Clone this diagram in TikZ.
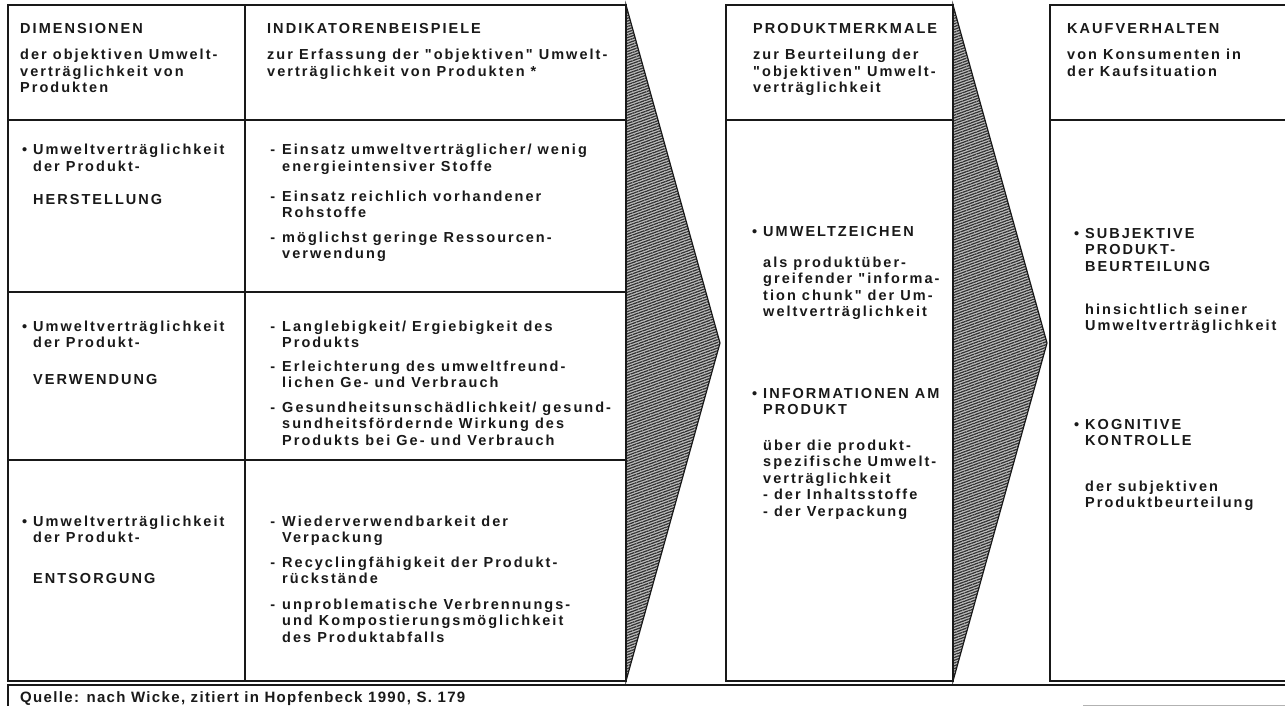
\documentclass[tikz,border=0pt]{standalone}
\usepackage{fontspec}
\setmainfont{Liberation Sans}
\newfontfamily\bodyfont{Liberation Sans}[LetterSpace=14]
\newfontfamily\srcfont{Liberation Sans}[LetterSpace=9]
\usetikzlibrary{patterns.meta}
\newcommand\tl[1]{\vtop{\baselineskip=16.5pt\lineskiplimit=-20pt\lineskip=0pt\halign{##\hfil\cr#1\crcr}}}
\newcommand\bul{\llap{•\kern6pt}}
\newcommand\dsh{\llap{-\kern7pt}}
\tikzset{
  txt/.style={anchor=base west, inner sep=0pt, text=black!90, font=\bodyfont\bfseries\fontsize{14.5}{16.5}\selectfont},
  srctxt/.style={anchor=base west, inner sep=0pt, text=black!90, font=\srcfont\bfseries\fontsize{15}{17}\selectfont},
  box/.style={draw=black!90, line width=1.3pt},
  hatch/.style={draw=black!90, line width=1.2pt, pattern={Lines[angle=20,distance=2.6pt,line width=1.25pt]}, pattern color=black!80},
}
\begin{document}
\begin{tikzpicture}[x=1pt,y=-1pt]
\useasboundingbox (0,0) rectangle (1285,706);
\clip (0,0) rectangle (1285,706);
\fill[white] (0,0) rectangle (1285,706);
% hatched arrows
\fill[black!25] (626,5) -- (720,343) -- (626,681) -- cycle;
\path[hatch] (626,5) -- (720,343) -- (626,681) -- cycle;
\fill[black!25] (953,5) -- (1047,343) -- (953,681) -- cycle;
\path[hatch] (953,5) -- (1047,343) -- (953,681) -- cycle;
% box 1
\draw[box] (8,5) rectangle (626,681);
\draw[box] (245,5) -- (245,681);
\draw[box] (8,120) -- (626,120);
\draw[box] (8,292) -- (626,292);
\draw[box] (8,460) -- (626,460);
% box 2
\draw[box] (726,5) rectangle (953,681);
\draw[box] (726,120) -- (953,120);
% box 3
\draw[box] (1050,5) rectangle (1300,681);
\draw[box] (1050,120) -- (1300,120);
% source box
\draw[box] (8,720) -- (8,685) -- (1300,685);
\draw[gray!60, line width=1pt] (1083,705) -- (1300,705);

% column 1
\node[txt] (d1) at (20,34) {DIMENSIONEN};
\node[txt] (d2) at (20,60) {\tl{der objektiven Umwelt-\cr verträglichkeit von\cr Produkten}};
\node[txt] (d3) at (33,155) {\tl{\bul Umweltverträglichkeit\cr der Produkt-}};
\node[txt] (d4) at (33,204) {HERSTELLUNG};
\node[txt] (d5) at (33,331) {\tl{\bul Umweltverträglichkeit\cr der Produkt-}};
\node[txt] (d6) at (33,384) {VERWENDUNG};
\node[txt] (d7) at (33,526) {\tl{\bul Umweltverträglichkeit\cr der Produkt-}};
\node[txt] (d8) at (33,583) {ENTSORGUNG};

% column 2
\node[txt] (i1) at (267,34) {INDIKATORENBEISPIELE};
\node[txt] (i2) at (267,60) {\tl{zur Erfassung der "objektiven" Umwelt-\cr verträglichkeit von Produkten *}};
\node[txt] (i3) at (282,155) {\tl{\dsh Einsatz umweltverträglicher/ wenig\cr energieintensiver Stoffe}};
\node[txt] (i4) at (282,201) {\tl{\dsh Einsatz reichlich vorhandener\cr Rohstoffe}};
\node[txt] (i5) at (282,242) {\tl{\dsh möglichst geringe Ressourcen-\cr verwendung}};
\node[txt] (i6) at (282,331) {\tl{\dsh Langlebigkeit/ Ergiebigkeit des\cr Produkts}};
\node[txt] (i7) at (282,371) {\tl{\dsh Erleichterung des umweltfreund-\cr lichen Ge- und Verbrauch}};
\node[txt] (i8) at (282,412) {\tl{\dsh Gesundheitsunschädlichkeit/ gesund-\cr sundheitsfördernde Wirkung des\cr Produkts bei Ge- und Verbrauch}};
\node[txt] (i9) at (282,526) {\tl{\dsh Wiederverwendbarkeit der\cr Verpackung}};
\node[txt] (i10) at (282,567) {\tl{\dsh Recyclingfähigkeit der Produkt-\cr rückstände}};
\node[txt] (i11) at (282,609) {\tl{\dsh unproblematische Verbrennungs-\cr und Kompostierungsmöglichkeit\cr des Produktabfalls}};

% box 2
\node[txt] (p1) at (753,34) {PRODUKTMERKMALE};
\node[txt] (p2) at (753,60) {\tl{zur Beurteilung der\cr "objektiven" Umwelt-\cr verträglichkeit}};
\node[txt] (p3) at (763,236) {\bul UMWELTZEICHEN};
\node[txt] (p4) at (763,267) {\tl{als produktüber-\cr greifender "informa-\cr tion chunk" der Um-\cr weltverträglichkeit}};
\node[txt] (p5) at (763,398) {\tl{\bul INFORMATIONEN AM\cr PRODUKT}};
\node[txt] (p6) at (763,450) {\tl{über die produkt-\cr spezifische Umwelt-\cr verträglichkeit\cr - der Inhaltsstoffe\cr - der Verpackung}};

% box 3
\node[txt] (k1) at (1067,34) {KAUFVERHALTEN};
\node[txt] (k2) at (1067,60) {\tl{von Konsumenten in\cr der Kaufsituation}};
\node[txt] (k3) at (1085,238) {\tl{\bul SUBJEKTIVE\cr PRODUKT-\cr BEURTEILUNG}};
\node[txt] (k4) at (1085,314) {\tl{hinsichtlich seiner\cr Umweltverträglichkeit}};
\node[txt] (k5) at (1085,429) {\tl{\bul KOGNITIVE\cr KONTROLLE}};
\node[txt] (k6) at (1085,491) {\tl{der subjektiven\cr Produktbeurteilung}};

% source
\node[srctxt] (q) at (20,702) {Quelle: nach Wicke, zitiert in Hopfenbeck 1990, S. 179};
\end{tikzpicture}
\end{document}
